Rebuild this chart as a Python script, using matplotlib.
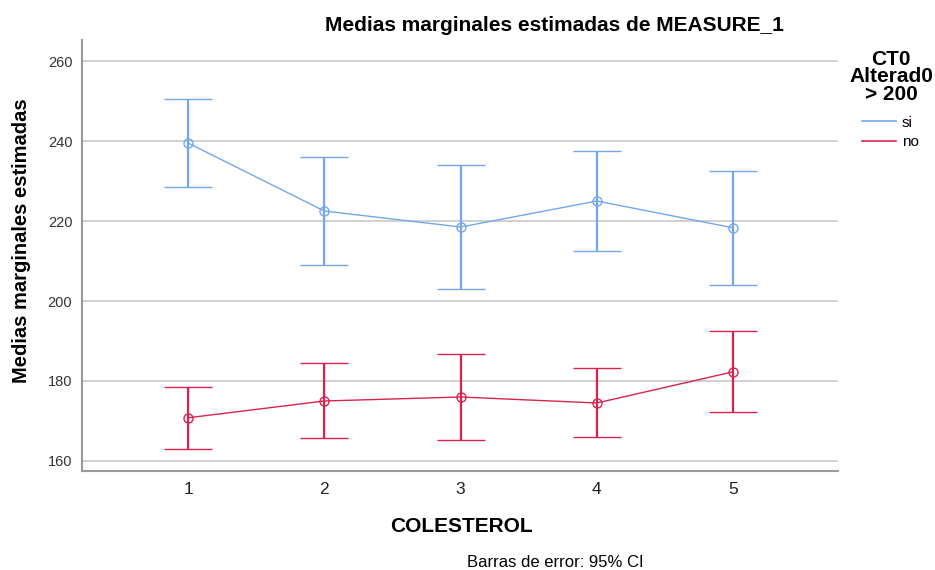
import numpy as np
from matplotlib import pyplot as plt
from matplotlib.lines import Line2D

plt.rcParams['font.family'] = ['Liberation Sans', 'DejaVu Sans']

colesterol = [1, 2, 3, 4, 5]

# grupo "si"
si_media = [239.5, 222.5, 218.5, 225.0, 218.3]
si_sup = [250.5, 236.0, 234.0, 237.5, 232.5]
si_inf = [228.5, 209.0, 203.0, 212.5, 204.0]

# grupo "no"
no_media = [170.8, 175.0, 176.0, 174.5, 182.3]
no_sup = [178.5, 184.5, 186.8, 183.3, 192.5]
no_inf = [163.0, 165.8, 165.3, 166.0, 172.3]

azul = '#72A7EE'
rojo = '#D9234E'

fig = plt.figure(figsize=(9.35, 5.7), dpi=100)
ax = fig.add_axes([0.0877, 0.1737, 0.8086, 0.7561])

for y in [160, 180, 200, 220, 240, 260]:
    ax.axhline(y, color='#C8C8C8', lw=1.2, zorder=0)


def serie(media, sup, inf, color, nombre):
    media = np.array(media)
    err = [media - np.array(inf), np.array(sup) - media]
    ax.errorbar(colesterol, media, yerr=err, color=color, lw=1.0, elinewidth=1.6,
                capsize=17, capthick=1.6, marker='o', markersize=6.5,
                markerfacecolor='none', markeredgewidth=1.0, label=nombre, zorder=3)


serie(si_media, si_sup, si_inf, azul, 'si')
serie(no_media, no_sup, no_inf, rojo, 'no')

ax.set_xlim(0.222, 5.77)
ax.set_ylim(157.5, 265.25)
ax.set_xticks(colesterol)
ax.set_xticklabels([str(c) for c in colesterol], fontsize=12.5)
ax.set_yticks([160, 180, 200, 220, 240, 260])
ax.tick_params(axis='y', labelsize=10.5, length=0, pad=7, colors='#333333')
ax.tick_params(axis='x', length=0, pad=8, colors='#222222')
for s in ['top', 'right']:
    ax.spines[s].set_visible(False)
ax.spines['left'].set_color('#9A9A9A')
ax.spines['bottom'].set_color('#9A9A9A')
ax.spines['left'].set_linewidth(1.5)
ax.spines['bottom'].set_linewidth(1.5)

fig.text(0.0235, 0.577, 'Medias marginales estimadas', rotation=90, ha='center', va='center',
         fontsize=14.5, fontweight='bold')
fig.text(0.494, 0.076, 'COLESTEROL', ha='center', va='center', fontsize=15, fontweight='bold')
fig.text(0.593, 0.956, 'Medias marginales estimadas de MEASURE_1', ha='center', va='center',
         fontsize=15, fontweight='bold')
fig.text(0.594, 0.0123, 'Barras de error: 95% CI', ha='center', va='center', fontsize=12)

fig.text(0.953, 0.865, 'CT0\nAlterad0\n> 200', ha='center', va='center', fontsize=15,
         fontweight='bold', linespacing=0.92)
h = [Line2D([], [], color=azul, lw=1.2), Line2D([], [], color=rojo, lw=1.2)]
fig.legend(h, ['si', 'no'], loc='upper left', bbox_to_anchor=(0.922, 0.797), frameon=False,
           fontsize=11, handlelength=2.2, handletextpad=0.4, labelspacing=0.35,
           borderaxespad=0, borderpad=0)

fig.savefig('out.png', dpi=100)
